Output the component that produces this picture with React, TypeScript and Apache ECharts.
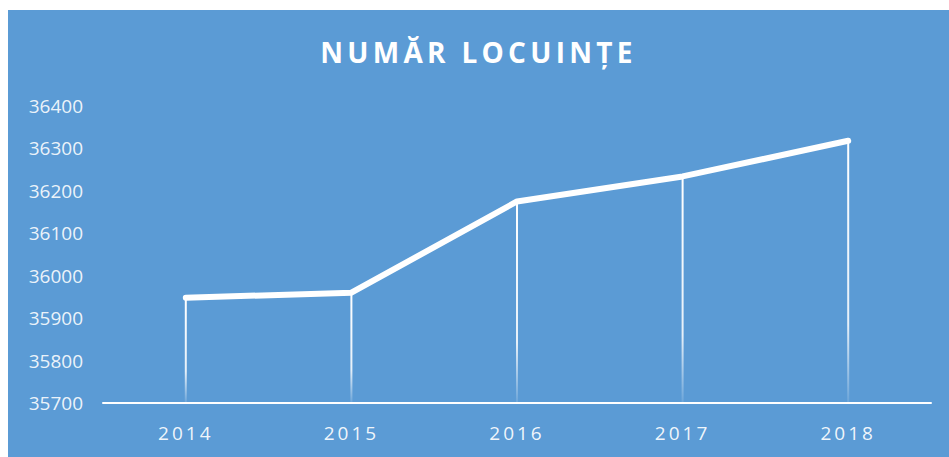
import React, { useEffect, useRef } from "react";
import * as echarts from "echarts";

const years = ["2014", "2015", "2016", "2017", "2018"];
const locuinte = [35948, 35960, 36175, 36234, 36318];
const yMin = 35700;
const yMax = 36400;
const yStep = 100;
const titleText = "NUMĂR LOCUINȚE";

export default function App() {
  const ref = useRef<HTMLDivElement>(null);
  useEffect(() => {
    if (!ref.current) return;
    const chart = echarts.init(ref.current, undefined, { renderer: "svg" });
    chart.setOption({
      animation: false,
      backgroundColor: "#5B9BD5",
      title: {
        text: titleText,
        left: "center",
        top: 23,
        textStyle: {
          color: "#ffffff",
          fontSize: 28,
          fontWeight: "bold",
          fontFamily: "'Open Sans', Lato",
        },
      },
      grid: { left: 95, right: 18, top: 96, bottom: 54 },
      xAxis: {
        type: "category",
        data: years,
        boundaryGap: true,
        axisLine: { show: true, lineStyle: { color: "#ffffff", width: 2 } },
        axisTick: { show: false },
        axisLabel: {
          color: "rgba(255,255,255,0.92)",
          fontSize: 19,
          margin: 20,
          fontFamily: "'Open Sans', Roboto",
        },
        splitLine: { show: false },
      },
      yAxis: {
        type: "value",
        min: yMin,
        max: yMax,
        interval: yStep,
        axisLine: { show: false },
        axisTick: { show: false },
        splitLine: { show: false },
        axisLabel: {
          color: "rgba(255,255,255,0.9)",
          fontSize: 19,
          margin: 20,
          fontFamily: "'Open Sans'",
          formatter: (v: number) => String(v),
        },
      },
      series: [
        {
          type: "bar",
          data: locuinte,
          barWidth: 2,
          z: 1,
          itemStyle: {
            color: new echarts.graphic.LinearGradient(0, 0, 0, 1, [
              { offset: 0, color: "rgba(255,255,255,1)" },
              { offset: 0.7, color: "rgba(255,255,255,0.85)" },
              { offset: 1, color: "rgba(255,255,255,0.1)" },
            ]),
          },
          silent: true,
        },
        {
          type: "line",
          data: locuinte,
          z: 3,
          symbol: "none",
          lineStyle: { color: "#ffffff", width: 6, cap: "round", join: "round" },
        },
      ],
    });
    return () => chart.dispose();
  }, []);
  return (
    <>
      <style>{`.cw text[style*="Lato"]{letter-spacing:4.3px;} .cw text[style*="Roboto"]{letter-spacing:3px;}`}</style>
      <div
        className="cw"
        ref={ref}
        style={{ position: "absolute", left: 8, top: 10, width: 941, height: 447 }}
      />
    </>
  );
}
